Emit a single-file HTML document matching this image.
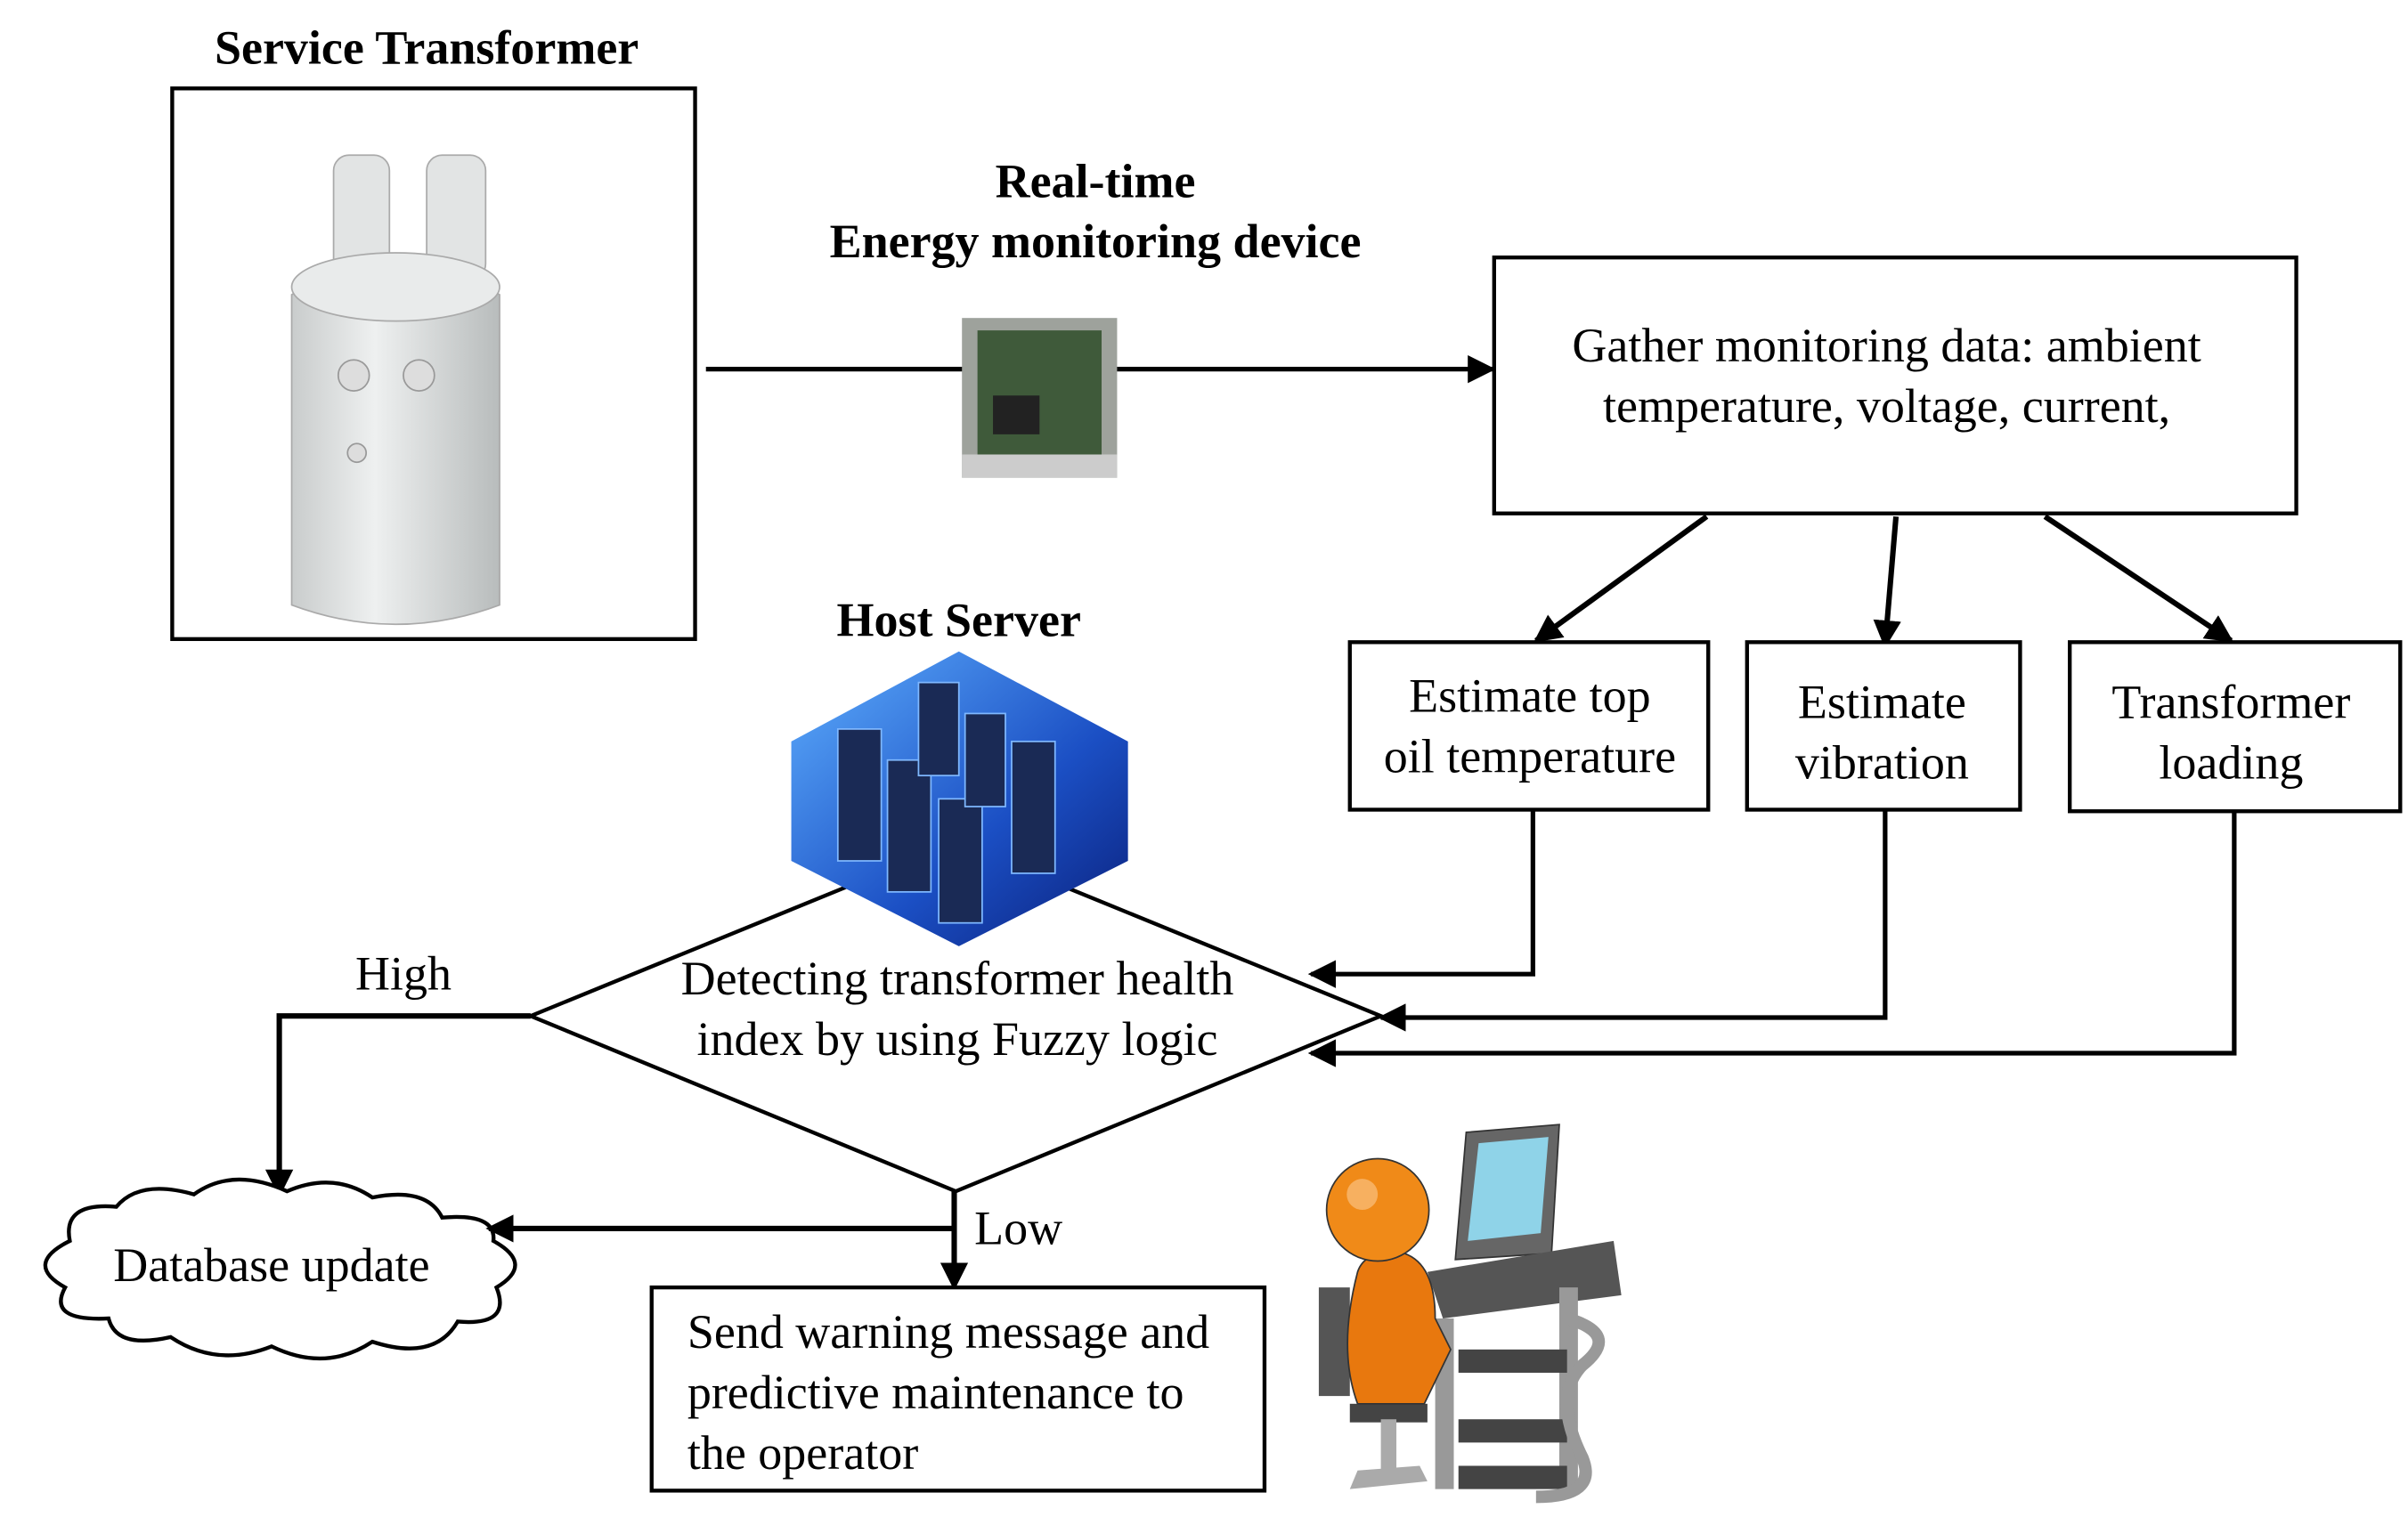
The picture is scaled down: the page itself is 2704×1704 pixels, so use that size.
<!DOCTYPE html>
<html><head><meta charset="utf-8"><style>
html,body{margin:0;padding:0;background:#fff;}
svg{display:block;}
text{font-family:"Liberation Serif",serif;fill:#000;}
.b{font-weight:bold;font-size:31px;}
.t{font-size:31px;}
</style></head><body>
<svg width="2704" height="1704" viewBox="0 0 1552 978" preserveAspectRatio="none" xmlns="http://www.w3.org/2000/svg">
<defs>
<marker id="ah2" markerWidth="18" markerHeight="18" refX="16" refY="9" orient="auto" markerUnits="userSpaceOnUse">
<path d="M0,0 L18,9 L0,18 z" fill="#000"/></marker>
<linearGradient id="cyl" x1="0" x2="1"><stop offset="0" stop-color="#c9cccc"/><stop offset="0.4" stop-color="#eef0f0"/><stop offset="1" stop-color="#b8bcbc"/></linearGradient>
<linearGradient id="srv" x1="0" y1="0" x2="1" y2="1"><stop offset="0" stop-color="#5fb0ff"/><stop offset="0.6" stop-color="#1b4fc4"/><stop offset="1" stop-color="#0a1f7a"/></linearGradient>
</defs>

<text class="b" x="275" y="41" text-anchor="middle">Service Transformer</text>
<rect x="111" y="57" width="337" height="355" fill="#fff" stroke="#000" stroke-width="2.5"/>
<rect x="215" y="100" width="36" height="80" rx="10" fill="#e2e4e4" stroke="#aaa"/>
<rect x="275" y="100" width="38" height="80" rx="10" fill="#e2e4e4" stroke="#aaa"/>
<path d="M188,190 Q255,150 322,190 L322,390 Q255,415 188,390 z" fill="url(#cyl)" stroke="#aaa"/>
<ellipse cx="255" cy="185" rx="67" ry="22" fill="#e9ebeb" stroke="#aaa"/>
<circle cx="228" cy="242" r="10" fill="#ddd" stroke="#999"/>
<circle cx="270" cy="242" r="10" fill="#ddd" stroke="#999"/>
<circle cx="230" cy="292" r="6" fill="#ddd" stroke="#999"/>

<text class="b" x="706" y="127" text-anchor="middle">Real-time</text>
<text class="b" x="706" y="166" text-anchor="middle">Energy monitoring  device</text>
<line x1="455" y1="238" x2="962" y2="238" stroke="#000" stroke-width="3" marker-end="url(#ah2)"/>
<rect x="620" y="205" width="100" height="103" fill="#9ea29c"/>
<rect x="630" y="213" width="80" height="80" fill="#3f5a3a"/>
<rect x="640" y="255" width="30" height="25" fill="#222"/>
<rect x="620" y="293" width="100" height="15" fill="#ccc"/>

<rect x="963" y="166" width="517" height="165" fill="#fff" stroke="#000" stroke-width="2.5"/>
<text class="t" x="1216" y="233" text-anchor="middle">Gather monitoring data: ambient</text>
<text class="t" x="1216" y="272" text-anchor="middle">temperature, voltage, current,</text>

<line x1="1100" y1="333" x2="990" y2="413" stroke="#000" stroke-width="3.5" marker-end="url(#ah2)"/>
<line x1="1222" y1="333" x2="1215" y2="416" stroke="#000" stroke-width="3.5" marker-end="url(#ah2)"/>
<line x1="1318" y1="333" x2="1438" y2="413" stroke="#000" stroke-width="3.5" marker-end="url(#ah2)"/>

<rect x="870" y="414" width="231" height="108" fill="#fff" stroke="#000" stroke-width="2.5"/>
<text class="t" x="986" y="459" text-anchor="middle">Estimate top</text>
<text class="t" x="986" y="498" text-anchor="middle">oil temperature</text>
<rect x="1126" y="414" width="176" height="108" fill="#fff" stroke="#000" stroke-width="2.5"/>
<text class="t" x="1213" y="463" text-anchor="middle">Estimate</text>
<text class="t" x="1213" y="502" text-anchor="middle">vibration</text>
<rect x="1334" y="414" width="213" height="109" fill="#fff" stroke="#000" stroke-width="2.5"/>
<text class="t" x="1438" y="463" text-anchor="middle">Transformer</text>
<text class="t" x="1438" y="502" text-anchor="middle">loading</text>

<polyline points="988,522 988,628 845,628" fill="none" stroke="#000" stroke-width="3" marker-end="url(#ah2)"/>
<polyline points="1215,522 1215,656 890,656" fill="none" stroke="#000" stroke-width="3" marker-end="url(#ah2)"/>
<polyline points="1440,523 1440,679 845,679" fill="none" stroke="#000" stroke-width="3" marker-end="url(#ah2)"/>

<polygon points="342,655 616,543 890,655 616,768" fill="#fff" stroke="#000" stroke-width="2.5"/>
<text class="t" x="617" y="641" text-anchor="middle">Detecting transformer health</text>
<text class="t" x="617" y="680" text-anchor="middle">index by using Fuzzy logic</text>

<text class="b" x="618" y="410" text-anchor="middle">Host Server</text>
<polygon points="618,420 727,478 727,555 618,610 510,555 510,478" fill="url(#srv)"/>
<g fill="#1a2a55" stroke="#7fb8ff" stroke-width="1">
<rect x="540" y="470" width="28" height="85"/><rect x="572" y="490" width="28" height="85"/>
<rect x="605" y="515" width="28" height="80"/><rect x="652" y="478" width="28" height="85"/>
<rect x="592" y="440" width="26" height="60"/><rect x="622" y="460" width="26" height="60"/>
</g>

<text class="t" x="260" y="638" text-anchor="middle">High</text>
<polyline points="342,655 180,655 180,770" fill="none" stroke="#000" stroke-width="3.5" marker-end="url(#ah2)"/>

<path d="M45,800 Q40,775 75,778 Q90,760 125,770 Q150,752 185,768 Q215,755 240,772 Q275,765 285,785 Q320,782 318,800 Q345,815 320,830 Q330,855 295,852 Q280,878 240,865 Q210,885 175,868 Q140,882 110,862 Q75,870 70,850 Q30,852 42,830 Q15,815 45,800 z" fill="#fff" stroke="#000" stroke-width="2.5"/>
<text class="t" x="175" y="826" text-anchor="middle">Database update</text>

<line x1="615" y1="768" x2="615" y2="830" stroke="#000" stroke-width="3.5" marker-end="url(#ah2)"/>
<line x1="615" y1="792" x2="315" y2="792" stroke="#000" stroke-width="3.5" marker-end="url(#ah2)"/>
<text class="t" x="628" y="802">Low</text>

<rect x="420" y="830" width="395" height="131" fill="#fff" stroke="#000" stroke-width="2.5"/>
<text class="t" x="443" y="869">Send warning message and</text>
<text class="t" x="443" y="908">predictive maintenance to</text>
<text class="t" x="443" y="947">the operator</text>

<g>
<polygon points="945,730 1005,725 1000,808 938,812" fill="#666" stroke="#333"/>
<polygon points="953,737 998,733 993,795 946,800" fill="#8fd3e8"/>
<polygon points="920,820 1040,800 1045,835 930,850" fill="#555"/>
<rect x="925" y="850" width="12" height="110" fill="#999"/>
<rect x="1005" y="830" width="12" height="130" fill="#999"/>
<rect x="940" y="870" width="70" height="15" fill="#444"/>
<rect x="940" y="915" width="70" height="15" fill="#444"/>
<rect x="940" y="945" width="70" height="15" fill="#444"/>
<path d="M1010,850 Q1045,860 1020,880 Q1000,900 1020,940 Q1030,965 990,965" fill="none" stroke="#999" stroke-width="8"/>
<rect x="850" y="830" width="20" height="70" fill="#555"/>
<rect x="870" y="905" width="50" height="12" fill="#444"/>
<rect x="890" y="915" width="10" height="40" fill="#aaa"/>
<path d="M870,960 L920,955 L915,945 L875,948 z" fill="#aaa"/>
<path d="M875,820 Q880,805 905,808 Q925,815 925,850 L935,870 L918,905 L875,905 Q862,870 875,820 z" fill="#e8780e" stroke="#333"/>
<circle cx="888" cy="780" r="33" fill="#f08a18" stroke="#333"/>
<circle cx="878" cy="770" r="10" fill="#f7b060"/>
</g>
</svg>
</body></html>
